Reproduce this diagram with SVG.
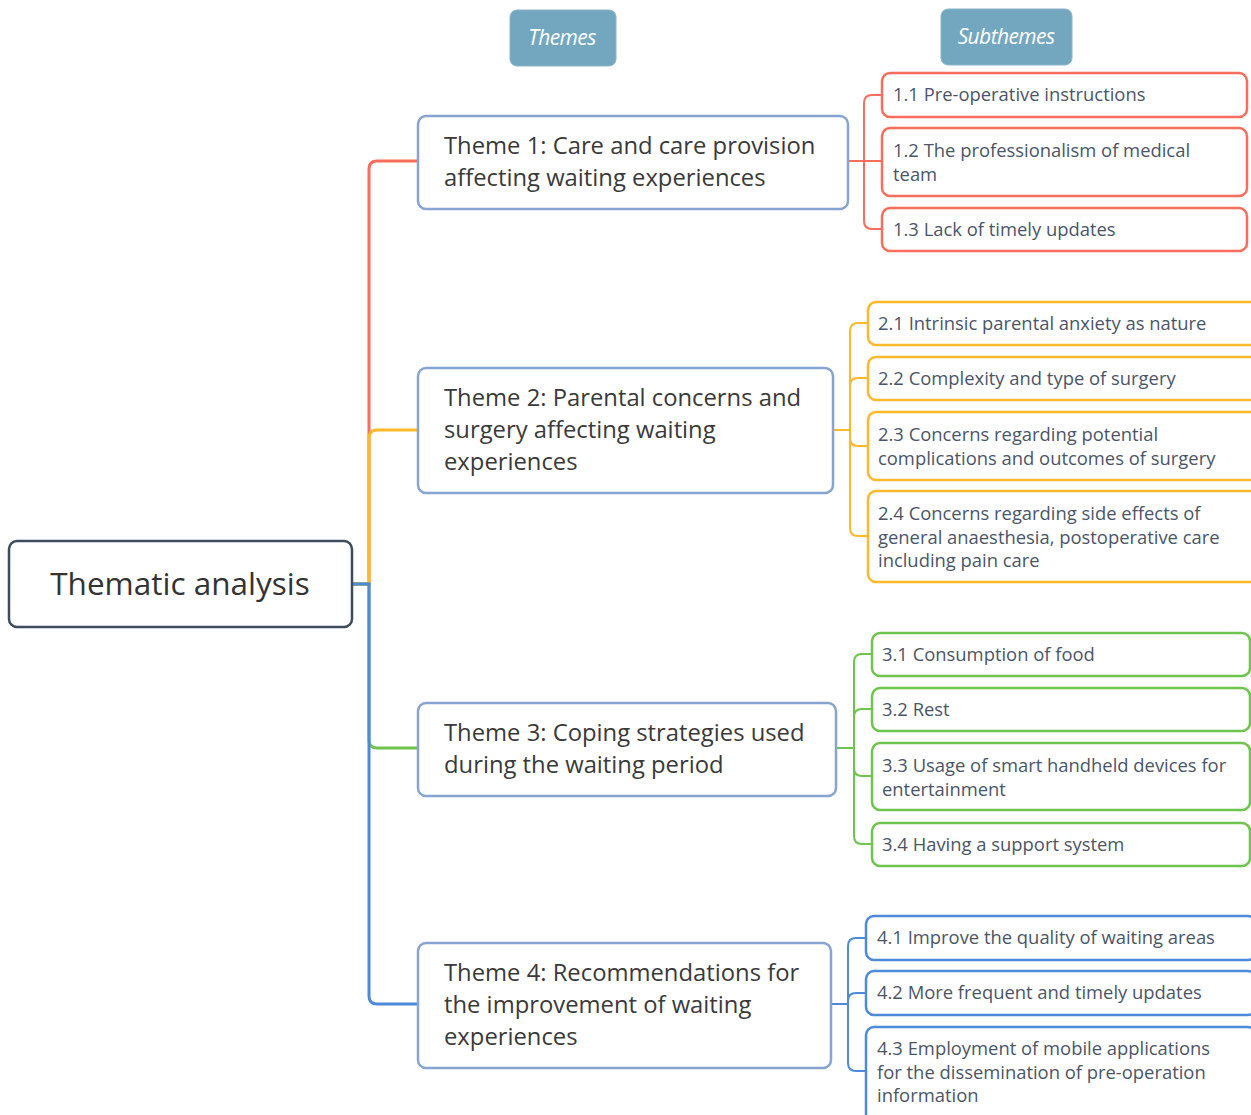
<svg xmlns="http://www.w3.org/2000/svg" width="1251" height="1115" viewBox="0 0 1251 1115">
<style>
text{font-family:"Open Sans","Noto Sans","Liberation Sans",sans-serif}
.hdr rect{fill:#73a7bf;stroke:#8bb6c9;stroke-width:1}
.hdr text{fill:#fff;font-style:italic;font-size:21px;text-anchor:middle;letter-spacing:-0.6px}
.root rect{fill:#fff;stroke:#3f4b5e;stroke-width:2.5}
.root text{fill:#333;font-size:31.5px;text-anchor:middle}
.theme rect{fill:#fff;stroke:#87a5d0;stroke-width:2.5}
.theme text{fill:#3a3a3a;font-size:23.8px}
.sub rect{fill:#fff;stroke-width:2.5}
.sub text{fill:#4b5568;font-size:18.4px}
.r rect{stroke:#f86d5b}.o rect{stroke:#fdb92a}.g rect{stroke:#6ec44d}.b rect{stroke:#4d8ad9}
.cn path{fill:none}
.cr{stroke:#f86d5b}.co{stroke:#fdb92a}.cg{stroke:#6ec44d}.cb{stroke:#4d8ad9}
.main path{stroke-width:3}
.subc path{stroke-width:2}
</style>
<g id="connectors" class="cn">
<g class="main">
<path class="cr" d="M352,584 H369 V169 Q369,161 377,161 H418"/>
<path class="co" d="M352,584 H369 V438 Q369,430 377,430 H418"/>
<path class="cg" d="M352,584 H369 V740 Q369,748 377,748 H418"/>
<path class="cb" d="M352,584 H369 V996 Q369,1004 377,1004 H418"/>
</g>
<g class="subc">
<path class="cr" d="M848,161 H864 V103 Q864,95 872,95 H882"/>
<path class="cr" d="M864,161 H882"/>
<path class="cr" d="M864,161 V221 Q864,229 872,229 H882"/>
<path class="co" d="M833,430 H850 V331 Q850,323 858,323 H868"/>
<path class="co" d="M850,430 V386 Q850,378 858,378 H868"/>
<path class="co" d="M850,430 V438 Q850,446 858,446 H868"/>
<path class="co" d="M850,430 V528 Q850,536 858,536 H868"/>
<path class="cg" d="M836,748 H854 V662 Q854,654 862,654 H872"/>
<path class="cg" d="M854,748 V717 Q854,709 862,709 H872"/>
<path class="cg" d="M854,748 V768 Q854,776 862,776 H872"/>
<path class="cg" d="M854,748 V836 Q854,844 862,844 H872"/>
<path class="cb" d="M831,1004 H848 V946 Q848,938 856,938 H866"/>
<path class="cb" d="M848,1004 V1001 Q848,993 856,993 H866"/>
<path class="cb" d="M848,1004 V1063 Q848,1071 856,1071 H866"/>
</g>
</g>
<g id="hdr-themes" class="hdr"><rect x="510" y="10" width="106" height="56" rx="7"/><text x="562" y="45">Themes</text></g>
<g id="hdr-subthemes" class="hdr"><rect x="941" y="9" width="131" height="56" rx="7"/><text x="1006" y="44">Subthemes</text></g>
<g id="root" class="root"><rect x="9" y="541" width="343" height="86" rx="8"/><text x="180" y="595">Thematic analysis</text></g>
<g id="theme1" class="theme"><rect x="418" y="116" width="430" height="93" rx="8"/><text x="444" y="154">Theme 1: Care and care provision</text><text x="444" y="186">affecting waiting experiences</text></g>
<g id="theme2" class="theme"><rect x="418" y="368" width="415" height="125" rx="8"/><text x="444" y="406">Theme 2: Parental concerns and</text><text x="444" y="438">surgery affecting waiting</text><text x="444" y="470">experiences</text></g>
<g id="theme3" class="theme"><rect x="418" y="703" width="418" height="93" rx="8"/><text x="444" y="741">Theme 3: Coping strategies used</text><text x="444" y="773">during the waiting period</text></g>
<g id="theme4" class="theme"><rect x="418" y="943" width="413" height="125" rx="8"/><text x="444" y="981">Theme 4: Recommendations for</text><text x="444" y="1013">the improvement of waiting</text><text x="444" y="1045">experiences</text></g>
<g id="s11" class="sub r"><rect x="882" y="73" width="365" height="44" rx="8"/><text x="893" y="101">1.1 Pre-operative instructions</text></g>
<g id="s12" class="sub r"><rect x="882" y="128" width="365" height="68" rx="8"/><text x="893" y="157">1.2 The professionalism of medical</text><text x="893" y="181">team</text></g>
<g id="s13" class="sub r"><rect x="882" y="208" width="365" height="43" rx="8"/><text x="893" y="236">1.3 Lack of timely updates</text></g>
<g id="s21" class="sub o"><rect x="868" y="302" width="390" height="43" rx="8"/><text x="878" y="330">2.1 Intrinsic parental anxiety as nature</text></g>
<g id="s22" class="sub o"><rect x="868" y="357" width="390" height="43" rx="8"/><text x="878" y="385">2.2 Complexity and type of surgery</text></g>
<g id="s23" class="sub o"><rect x="868" y="412" width="390" height="68" rx="8"/><text x="878" y="441">2.3 Concerns regarding potential</text><text x="878" y="465">complications and outcomes of surgery</text></g>
<g id="s24" class="sub o"><rect x="868" y="491" width="390" height="91" rx="8"/><text x="878" y="520">2.4 Concerns regarding side effects of</text><text x="878" y="544">general anaesthesia, postoperative care</text><text x="878" y="567">including pain care</text></g>
<g id="s31" class="sub g"><rect x="872" y="633" width="378" height="43" rx="8"/><text x="882" y="661">3.1 Consumption of food</text></g>
<g id="s32" class="sub g"><rect x="872" y="688" width="378" height="43" rx="8"/><text x="882" y="716">3.2 Rest</text></g>
<g id="s33" class="sub g"><rect x="872" y="743" width="378" height="67" rx="8"/><text x="882" y="772">3.3 Usage of smart handheld devices for</text><text x="882" y="796">entertainment</text></g>
<g id="s34" class="sub g"><rect x="872" y="823" width="378" height="43" rx="8"/><text x="882" y="851">3.4 Having a support system</text></g>
<g id="s41" class="sub b"><rect x="866" y="916" width="390" height="44" rx="8"/><text x="877" y="944">4.1 Improve the quality of waiting areas</text></g>
<g id="s42" class="sub b"><rect x="866" y="971" width="390" height="44" rx="8"/><text x="877" y="999">4.2 More frequent and timely updates</text></g>
<g id="s43" class="sub b"><rect x="866" y="1027" width="390" height="95" rx="8"/><text x="877" y="1055">4.3 Employment of mobile applications</text><text x="877" y="1079">for the dissemination of pre-operation</text><text x="877" y="1102">information</text></g>
</svg>
